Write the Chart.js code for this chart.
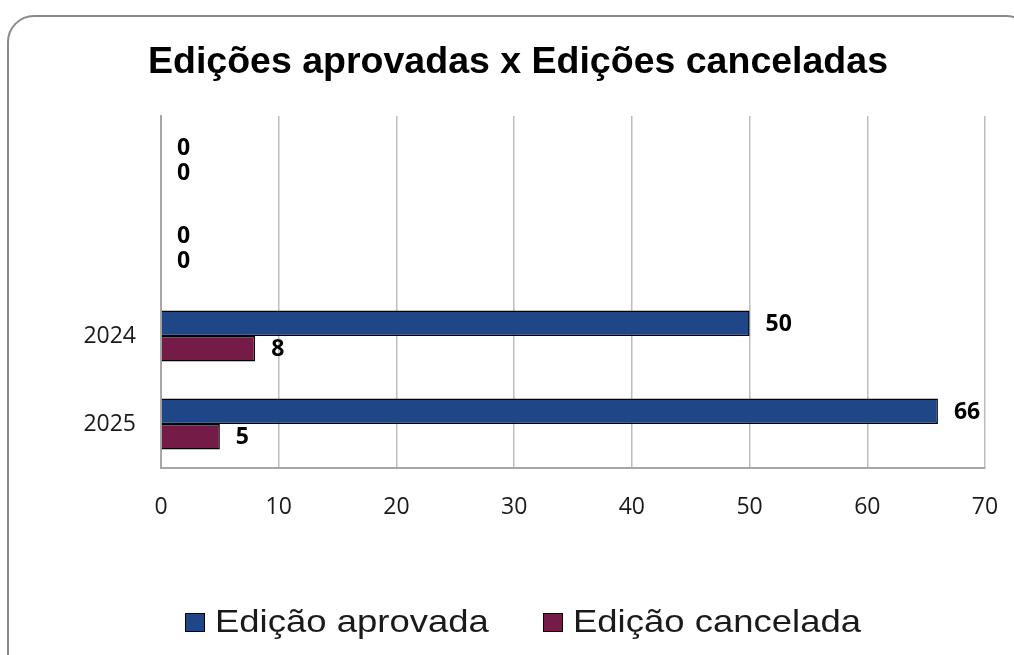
<!DOCTYPE html>
<html lang="pt-BR">
<head>
<meta charset="utf-8">
<title>Edições aprovadas x Edições canceladas</title>
<script src="https://cdn.jsdelivr.net/npm/chart.js@4/dist/chart.umd.min.js"></script>
<style>
  html, body { margin: 0; padding: 0; background: #fff; overflow: hidden; }
  body { width: 1014px; height: 655px; position: relative; }
  #frame {
    position: absolute; left: 7px; top: 15px; width: 1026px; height: 700px;
    border: 2px solid #8a8a8a; border-radius: 27px; box-sizing: border-box;
  }
  #wrap { position: absolute; left: 0; top: 0; width: 1014px; height: 655px; }
  .box { position: absolute; top: 613px; width: 20px; height: 19px; border: 1.5px solid #000; box-sizing: border-box; }
  .txt {
    position: absolute; top: 605px; line-height: 32px; white-space: nowrap;
    font-family: 'Liberation Sans', Arial, sans-serif; font-size: 32px; color: #1a1a1a;
    transform-origin: 0 50%; transform: scaleX(1.14);
  }
</style>
</head>
<body>
<div id="frame"></div>
<div id="wrap"><canvas id="chart" width="1014" height="655"></canvas></div>
<div id="legend"></div>
<script>
  // dados
  var categories = ['', '', '2024', '2025'];
  var aprovadas = [0, 0, 50, 66];
  var canceladas = [0, 0, 8, 5];
  var seriesNames = ['Edição aprovada', 'Edição cancelada'];
  var seriesColors = ['#1f4788', '#741b47'];
  var xTicks = [0, 10, 20, 30, 40, 50, 60, 70];

  // rótulos de valor ao lado das barras
  var valueLabels = {
    id: 'valueLabels',
    afterDatasetsDraw: function (chart) {
      var ctx = chart.ctx;
      ctx.save();
      ctx.font = 'bold 23px "Open Sans"';
      ctx.fillStyle = '#000';
      ctx.textAlign = 'left';
      ctx.textBaseline = 'middle';
      chart.data.datasets.forEach(function (ds, i) {
        chart.getDatasetMeta(i).data.forEach(function (bar, j) {
          ctx.fillText(String(ds.data[j]), bar.x + 16, bar.y + 1);
        });
      });
      ctx.restore();
    }
  };

  // legenda em HTML (caixa + texto)
  var legend = document.getElementById('legend');
  var legendX = [185, 543];
  seriesNames.forEach(function (name, i) {
    var box = document.createElement('div');
    box.className = 'box';
    box.style.left = legendX[i] + 'px';
    box.style.background = seriesColors[i];
    var txt = document.createElement('div');
    txt.className = 'txt';
    txt.style.left = (legendX[i] + 30) + 'px';
    txt.textContent = name;
    legend.appendChild(box);
    legend.appendChild(txt);
  });

  function borderFor(ctx) {
    return ctx.raw === 0 ? 0 : 1.5;
  }

  new Chart(document.getElementById('chart'), {
    type: 'bar',
    data: {
      labels: categories,
      datasets: [
        {
          label: seriesNames[0],
          data: aprovadas,
          backgroundColor: seriesColors[0],
          borderColor: '#000',
          borderWidth: borderFor,
        },
        {
          label: seriesNames[1],
          data: canceladas,
          backgroundColor: seriesColors[1],
          borderColor: '#000',
          borderWidth: borderFor,
        },
      ],
    },
    options: {
      indexAxis: 'y',
      responsive: false,
      animation: false,
      categoryPercentage: 0.58,
      barPercentage: 1,
      layout: { padding: { left: 51, right: 29, top: 0, bottom: 127 } },
      plugins: {
        legend: { display: false },
        tooltip: { enabled: false },
        title: {
          display: true,
          text: 'Edições aprovadas x Edições canceladas',
          color: '#000',
          font: { family: '"Liberation Sans", Arial, sans-serif', size: 37.5, weight: 'bold' },
          padding: { top: 40, bottom: 31 },
        },
      },
      scales: {
        x: {
          min: 0,
          max: 70,
          afterBuildTicks: function (scale) {
            scale.ticks = xTicks.map(function (v) { return { value: v }; });
          },
          afterFit: function (scale) { scale.height = 60; },
          grid: {
            color: '#bdbdbd',
            lineWidth: 1.5,
            drawTicks: true,
            tickLength: 24,
            tickColor: 'rgba(0,0,0,0)',
          },
          border: { display: true, color: '#a6a6a6', width: 2 },
          ticks: {
            padding: 2,
            color: '#1a1a1a',
            font: { family: '"Open Sans"', size: 23 },
          },
        },
        y: {
          afterFit: function (scale) { scale.width = 110; },
          grid: { display: false, drawTicks: false },
          border: { display: true, color: '#a6a6a6', width: 2 },
          ticks: {
            padding: 25,
            color: '#1a1a1a',
            font: { family: '"Open Sans"', size: 23 },
          },
        },
      },
    },
    plugins: [valueLabels],
  });
</script>
</body>
</html>
